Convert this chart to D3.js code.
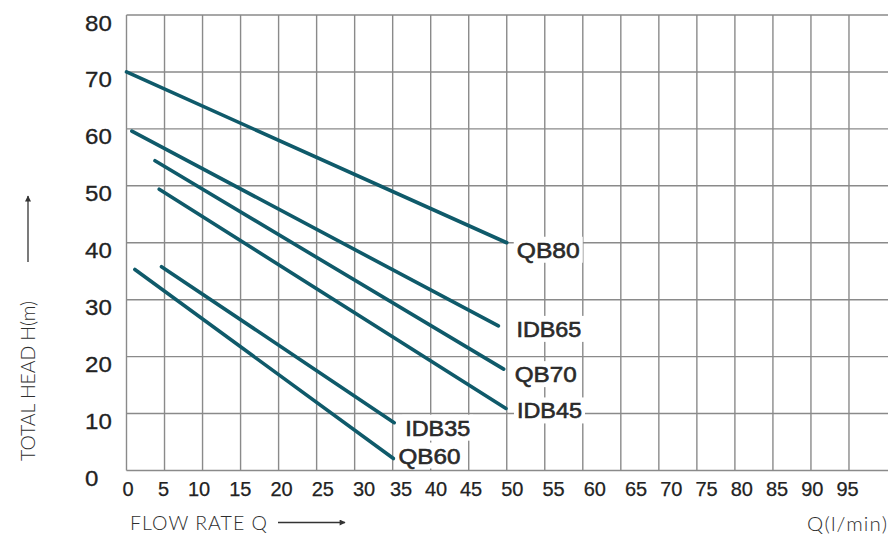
<!DOCTYPE html>
<html>
<head>
<meta charset="utf-8">
<script src="https://cdn.jsdelivr.net/npm/d3@7"></script>
<style>
  html, body { margin: 0; padding: 0; background: #fff; }
  svg { display: block; }
</style>
</head>
<body>
<svg id="chart" width="888" height="539"></svg>
<script>
// ---- data ----
const seriesNames = ["QB80", "IDB65", "QB70", "IDB45", "IDB35", "QB60"];
const flowStart = [0, 0.7, 3.75, 4.3, 4.6, 1.1];
const headStart = [70, 59.6, 54.4, 49.4, 35.8, 35.3];
const flowEnd = [50, 48.9, 49.6, 49.9, 35.2, 35.1];
const headEnd = [40, 25.4, 17.8, 10.9, 8.4, 2.1];
const xTicks = [0, 5, 10, 15, 20, 25, 30, 35, 40, 45, 50, 55, 60, 65, 70, 75, 80, 85, 90, 95];
const yTicks = [0, 10, 20, 30, 40, 50, 60, 70, 80];
const xTitle = "FLOW RATE Q";
const yTitle = "TOTAL HEAD H(m)";
const unitTitle = "Q(l/min)";

// ---- layout ----
const svg = d3.select("#chart");
const x = d3.scaleLinear().domain([0, 100]).range([126.5, 887]);
const y = d3.scaleLinear().domain([0, 80]).range([470.5, 15]);
// tick labels in the original are not exactly under their gridlines
const xLabelPos = d3.scaleLinear()
  .domain([0, 10, 30, 35, 45, 65, 95])
  .range([128, 199, 364, 401, 471, 636, 847.5]);

const gridColor = "#8a8a8a";
const lineColor = "#0f5a6a";
const numFont = "Liberation Sans, Arial, sans-serif";

// grid
const grid = svg.append("g");
grid.selectAll("line.h").data(yTicks).join("line")
  .attr("class", "h")
  .attr("x1", x(0)).attr("x2", 888)
  .attr("y1", d => y(d)).attr("y2", d => y(d))
  .attr("stroke", gridColor).attr("stroke-width", 1.4);
grid.selectAll("line.v").data(xTicks).join("line")
  .attr("class", "v")
  .attr("x1", d => x(d)).attr("x2", d => x(d))
  .attr("y1", y(0)).attr("y2", y(80))
  .attr("stroke", gridColor).attr("stroke-width", 1.4);

// y tick labels (left aligned)
svg.append("g").selectAll("text").data(yTicks).join("text")
  .attr("transform", d => `translate(85,${y(d) + 15.5}) scale(1.12,1)`)
  .attr("font-family", numFont)
  .attr("font-size", 21.5)
  .attr("fill", "#222").attr("stroke", "#222").attr("stroke-width", 0.3)
  .text(d => d);

// x tick labels
svg.append("g").selectAll("text").data(xTicks).join("text")
  .attr("x", d => xLabelPos(d))
  .attr("y", 496)
  .attr("text-anchor", "middle")
  .attr("font-family", numFont)
  .attr("font-size", 20)
  .attr("fill", "#222").attr("stroke", "#222").attr("stroke-width", 0.25)
  .text(d => d);

// series lines
const series = seriesNames.map((n, i) => ({
  name: n,
  pts: [[flowStart[i], headStart[i]], [flowEnd[i], headEnd[i]]]
}));
const line = d3.line().x(d => x(d[0])).y(d => y(d[1]));
svg.append("g").selectAll("path").data(series).join("path")
  .attr("d", d => line(d.pts))
  .attr("fill", "none")
  .attr("stroke", lineColor)
  .attr("stroke-width", 3.6)
  .attr("stroke-linecap", "round");

// series labels with white boxes
const labelOffset = {
  QB80: [10, 15], IDB65: [18, 11], QB70: [11, 13],
  IDB45: [11, 10], IDB35: [11, 13], QB60: [5, 5]
};
const labelWidth = { QB80: 63, IDB65: 65, QB70: 62, IDB45: 65, IDB35: 65, QB60: 62 };
const lg = svg.append("g").selectAll("g").data(series).join("g")
  .attr("transform", d => {
    const p = d.pts[1];
    const o = labelOffset[d.name];
    return `translate(${x(p[0]) + o[0]},${y(p[1]) + o[1]})`;
  });
lg.append("rect")
  .attr("x", -3).attr("y", -21)
  .attr("width", d => labelWidth[d.name] + 6).attr("height", 26)
  .attr("fill", "#fff");
lg.append("text")
  .attr("font-family", numFont)
  .attr("font-size", 22)
  .attr("fill", "#2a2a2a").attr("stroke", "#2a2a2a").attr("stroke-width", 0.6)
  .attr("textLength", d => labelWidth[d.name])
  .attr("lengthAdjust", "spacingAndGlyphs")
  .text(d => d.name);

// axis titles
const titleFont = "Lato, 'Open Sans', sans-serif";
svg.append("text")
  .attr("x", 130).attr("y", 530)
  .attr("font-family", titleFont).attr("font-size", 19.5).attr("font-weight", 300)
  .attr("fill", "#2e2e2e")
  .attr("textLength", 137).attr("lengthAdjust", "spacing")
  .text(xTitle);
svg.append("text")
  .attr("x", 807).attr("y", 531)
  .attr("font-family", titleFont).attr("font-size", 20.5).attr("font-weight", 300)
  .attr("fill", "#2e2e2e")
  .attr("textLength", 80).attr("lengthAdjust", "spacing")
  .text(unitTitle);
svg.append("text")
  .attr("transform", "translate(35,381) rotate(-90)")
  .attr("text-anchor", "middle")
  .attr("font-family", titleFont).attr("font-size", 19.5).attr("font-weight", 300)
  .attr("fill", "#2e2e2e")
  .attr("textLength", 160).attr("lengthAdjust", "spacing")
  .text(yTitle);

// arrows
const defs = svg.append("defs");
defs.append("marker")
  .attr("id", "arr").attr("viewBox", "0 0 10 10")
  .attr("refX", 9).attr("refY", 5)
  .attr("markerWidth", 10).attr("markerHeight", 6)
  .attr("markerUnits", "userSpaceOnUse")
  .attr("orient", "auto")
  .append("path").attr("d", "M0,0 L10,5 L0,10 Z").attr("fill", "#333");
svg.append("line")
  .attr("x1", 278).attr("x2", 345).attr("y1", 522.5).attr("y2", 522.5)
  .attr("stroke", "#333").attr("stroke-width", 1.3)
  .attr("marker-end", "url(#arr)");
svg.append("line")
  .attr("x1", 28).attr("x2", 28).attr("y1", 262).attr("y2", 196)
  .attr("stroke", "#333").attr("stroke-width", 1.3)
  .attr("marker-end", "url(#arr)");
</script>
</body>
</html>
